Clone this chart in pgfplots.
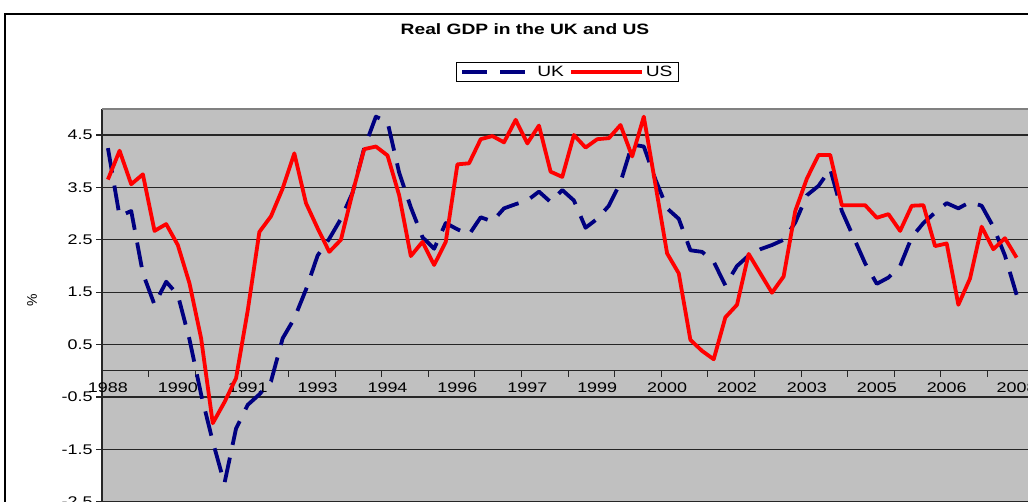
\documentclass[border=0pt]{standalone}
\usepackage{pgfplots}
\pgfplotsset{compat=1.18}
\usepackage{pgfplotstable}
\usepackage{fontspec}
\setmainfont{Liberation Sans}
\usepackage{graphicx}

\definecolor{ukblue}{HTML}{000080}
\definecolor{usred}{HTML}{FF0000}
\definecolor{plotgray}{HTML}{C0C0C0}

% the source chart is stretched sideways, so the text is too
\newcommand{\wide}[1]{\scalebox{1.28}[1]{#1}}

% quarterly real GDP growth, 1988 onwards (k = quarter number)
\pgfplotstableread{
k  uk     us
1  4.25   3.65
2  2.95   4.20
3  3.05   3.56
4  1.86   3.75
5  1.26   2.67
6  1.70   2.80
7  1.45   2.40
8  0.60   1.67
9  -0.45  0.62
10 -1.35  -1.00
11 -2.15  -0.60
12 -1.10  -0.14
13 -0.65  1.15
14 -0.45  2.65
15 -0.20  2.95
16 0.62   3.48
17 1.00   4.15
18 1.55   3.20
19 2.20   2.72
20 2.52   2.27
21 2.90   2.50
22 3.40   3.40
23 4.25   4.23
24 4.85   4.28
25 4.75   4.11
26 3.78   3.35
27 3.12   2.19
28 2.55   2.46
29 2.33   2.02
30 2.82   2.46
31 2.70   3.94
32 2.60   3.96
33 2.93   4.42
34 2.85   4.48
35 3.10   4.36
36 3.18   4.79
37 3.25   4.34
38 3.42   4.68
39 3.22   3.80
40 3.45   3.70
41 3.25   4.50
42 2.73   4.26
43 2.90   4.42
44 3.15   4.44
45 3.60   4.69
46 4.32   4.09
47 4.28   4.85
48 3.65   3.55
49 3.10   2.24
50 2.90   1.86
51 2.30   0.59
52 2.27   0.38
53 2.08   0.22
54 1.63   1.02
55 2.00   1.26
56 2.20   2.23
57 2.32   1.86
58 2.40   1.49
59 2.50   1.80
60 2.83   3.05
61 3.35   3.67
62 3.53   4.12
63 3.85   4.12
64 3.05   3.16
65 2.55   3.16
66 2.05   3.16
67 1.66   2.92
68 1.78   2.99
69 2.00   2.67
70 2.55   3.15
71 2.82   3.16
72 3.02   2.38
73 3.20   2.43
74 3.10   1.26
75 3.22   1.76
76 3.15   2.75
77 2.75   2.32
78 2.20   2.53
79 1.45   2.16
}\gdp

\begin{document}
\begin{tikzpicture}[x=1pt,y=1pt]
\useasboundingbox (0,0) rectangle (1028,501);
\clip (0,0) rectangle (1028,501);
\fill[white] (0,0) rectangle (1028,501);
\draw[black, line width=1.5pt] (5,-5) -- (5,487) -- (1040,487);
\node[font=\bfseries\fontsize{15}{17}\selectfont] at (525,472) {\wide{Real GDP in the UK and US}};
\node[rotate=90, font=\fontsize{14}{16}\selectfont] at (32,201) {\%};

\begin{axis}[
  at={(102.1pt,392.2pt)}, anchor=north west,
  scale only axis, width=937.8pt, height=403.5pt,
  xmin=0.5, xmax=81, ymin=-2.7, ymax=5,
  axis y line=left, axis x line=middle,
  axis line style={-, line width=1.3pt, black!85},
  axis background/.style={fill=plotgray},
  ytick={-2.5,-1.5,...,4.5},
  ymajorgrids,
  major grid style={black!85, line width=1.1pt},
  tick align=outside,
  major tick length=6pt,
  tick style={black!85, line width=1.1pt},
  xtick={4.5,8.5,...,80.5},
  xticklabels={},
  extra x ticks={1,7,...,79},
  extra x tick labels={\wide{1988},\wide{1990},\wide{1991},\wide{1993},\wide{1994},\wide{1996},\wide{1997},\wide{1999},\wide{2000},\wide{2002},\wide{2003},\wide{2005},\wide{2006},\wide{2008}},
  extra x tick style={major tick length=0pt, tick style={draw=none}},
  x tick label style={font=\fontsize{14}{16}\selectfont, yshift=-8pt},
  yticklabel={\wide{\pgfmathprintnumber{\tick}}},
  y tick label style={font=\fontsize{14}{16}\selectfont,
    /pgf/number format/.cd, fixed, fixed zerofill, precision=1, assume math mode=true},
  legend columns=2,
  legend style={at={(0.4963,1)}, anchor=south, yshift=26.8pt,
    draw=black, line width=0.9pt, fill=white,
    font=\fontsize{15}{16}\selectfont,
    inner xsep=4pt, inner ysep=1.5pt,
    /tikz/every even column/.append style={column sep=3pt}},
  legend image code/.code={\draw[#1] (0pt,0pt) -- (71pt,0pt);},
]
\addplot[ukblue, line width=3.8pt, dash pattern=on 25pt off 13pt, line join=round]
  table[x=k, y=uk] {\gdp};
\addlegendentry{\wide{UK}}
\addplot[usred, line width=3.8pt, line join=round]
  table[x=k, y=us] {\gdp};
\addlegendentry{\wide{US}}
\draw[gray, line width=2pt] (axis cs:0.5,5) -- (axis cs:81,5);
\end{axis}
\end{tikzpicture}
\end{document}
